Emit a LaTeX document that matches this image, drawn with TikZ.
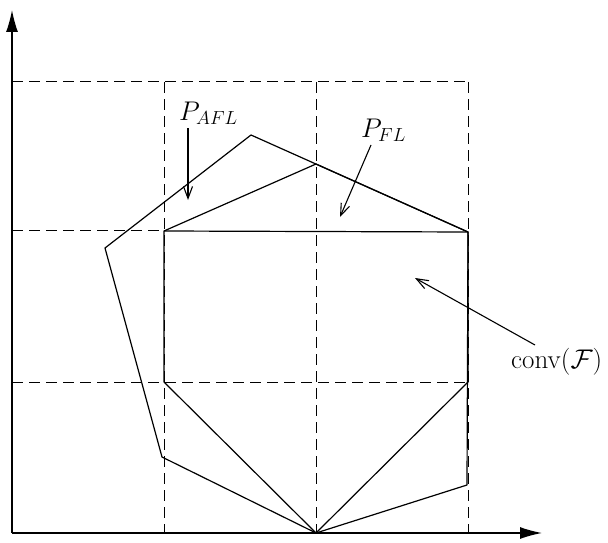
\RequirePackage{fix-cm}
\documentclass[tikz,border=0pt]{standalone}
\usetikzlibrary{arrows.meta}
\begin{document}
\begin{tikzpicture}[x=1pt,y=-1pt,
  axis/.style={line width=1.3pt,-{Latex[length=22pt,width=12pt]}},
  grid/.style={line width=1pt,dash pattern=on 11pt off 6pt},
  edge/.style={line width=1.2pt,line join=round},
  pointer/.style={line width=1.1pt,-{Straight Barb[length=12pt,width=9pt]}},
  lab/.style={inner sep=0pt,anchor=base west,font=\fontsize{27}{32}\selectfont}]
\useasboundingbox (0,0) rectangle (608,543);
% origin and axes
\coordinate (O) at (12,533);
\coordinate (xend) at (542,533);
\coordinate (yend) at (12,10);
% dashed grid
\draw[grid] (12,82) -- (468,82);
\draw[grid] (12,230) -- (164,230);
\draw[grid] (12,382) -- (468,382);
\draw[grid] (164,82) -- (164,533);
\draw[grid] (316,82) -- (316,533);
\draw[grid] (468,82) -- (468,533);
\draw[axis] (O) -- (xend);
\draw[axis] (O) -- (yend);
% vertices
\coordinate (a) at (251,135);
\coordinate (b) at (468,232);
\coordinate (c) at (467,485);
\coordinate (d) at (316,533);
\coordinate (e) at (162,457);
\coordinate (f) at (105,248);
\coordinate (g) at (164,231);
\coordinate (h) at (316,164);
\coordinate (i) at (468,382);
\coordinate (j) at (164,382);
% conv(F)
\draw[edge] (a) -- (b) -- (c) -- (d) -- (e) -- (f) -- cycle;
% P_FL
\draw[edge] (g) -- (h) -- (b) -- (i) -- (d) -- (j) -- cycle;
\draw[edge] (g) -- (b);
% labels
\node[lab] (pafl) at (179,120) {$P_{AFL}$};
\node[lab] (pfl) at (361,137) {$P_{FL}$};
\node[lab] (conv) at (511,368) {$\mathrm{conv}(\mathcal{F})$};
\coordinate (pafltip) at (188,200);
\coordinate (pfltip) at (340,217);
\coordinate (convtip) at (415,278);
\draw[pointer] (188,128) -- (pafltip);
\draw[pointer] (371,145) -- (pfltip);
\draw[pointer] (535,345) -- (convtip);
\end{tikzpicture}
\end{document}
